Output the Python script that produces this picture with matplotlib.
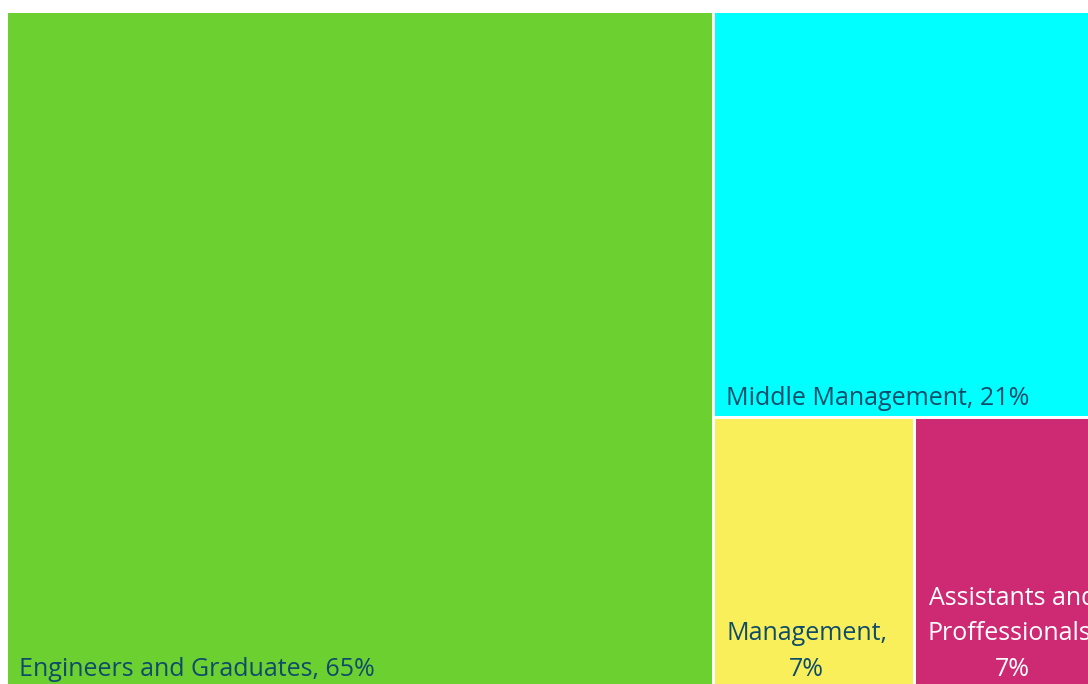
import matplotlib
matplotlib.use("Agg")
import matplotlib.pyplot as plt
from matplotlib.patches import Rectangle

# tile data (percent of staff)
names = ["Engineers and Graduates", "Middle Management", "Management",
         "Assistants and Proffessionals"]
values = [65, 21, 7.4, 6.6]
labels = ["Engineers and Graduates, 65%", "Middle Management, 21%",
          "Management,\n7%", "Assistants and\nProffessionals,\n7%"]
colors = ["#6cd030", "#00ffff", "#f8ef5b", "#cd2a73"]
text_colors = ["#0f4c6a", "#0f4c6a", "#0f4c6a", "#ffffff"]


def worst(row, side):
    s = sum(row)
    return max(max(side * side * r / (s * s), s * s / (side * side * r)) for r in row)


def squarify(vals, x, y, w, h):
    # vals already scaled to the area w*h, sorted descending
    rects = []
    vals = list(vals)
    while vals:
        side = min(w, h)
        row = [vals.pop(0)]
        while vals and worst(row + [vals[0]], side) <= worst(row, side):
            row.append(vals.pop(0))
        s = sum(row)
        if w >= h:
            cw = s / h
            yy = y
            for r in row:
                rects.append((x, yy, cw, r / cw))
                yy += r / cw
            x += cw
            w -= cw
        else:
            ch = s / w
            xx = x
            for r in row:
                rects.append((xx, y, r / ch, ch))
                xx += r / ch
            y += ch
            h -= ch
    return rects


W, H = 1088, 684
fig = plt.figure(figsize=(W / 100, H / 100), dpi=100)
ax = fig.add_axes([0, 0, 1, 1])
ax.set_xlim(0, W)
ax.set_ylim(H, 0)
ax.axis("off")

x0, y0, aw, ah = 6.5, 11.5, 1087.7, 677
total = sum(values)
scaled = [v / total * aw * ah for v in values]
rects = squarify(scaled, x0, y0, aw, ah)

gap = 1.6
for (rx, ry, rw, rh), c, lab, tc in zip(rects, colors, labels, text_colors):
    ax.add_patch(Rectangle((rx + gap, ry + gap), rw - 2 * gap, rh - 2 * gap,
                           facecolor=c, edgecolor="none"))
    ax.text(rx + gap + 11, ry + rh - gap - 5, lab, ha="left", va="bottom",
            multialignment="center", color=tc, fontsize=18,
            family=["Open Sans", "DejaVu Sans"], linespacing=1.55)

fig.savefig("out.png", dpi=100)
